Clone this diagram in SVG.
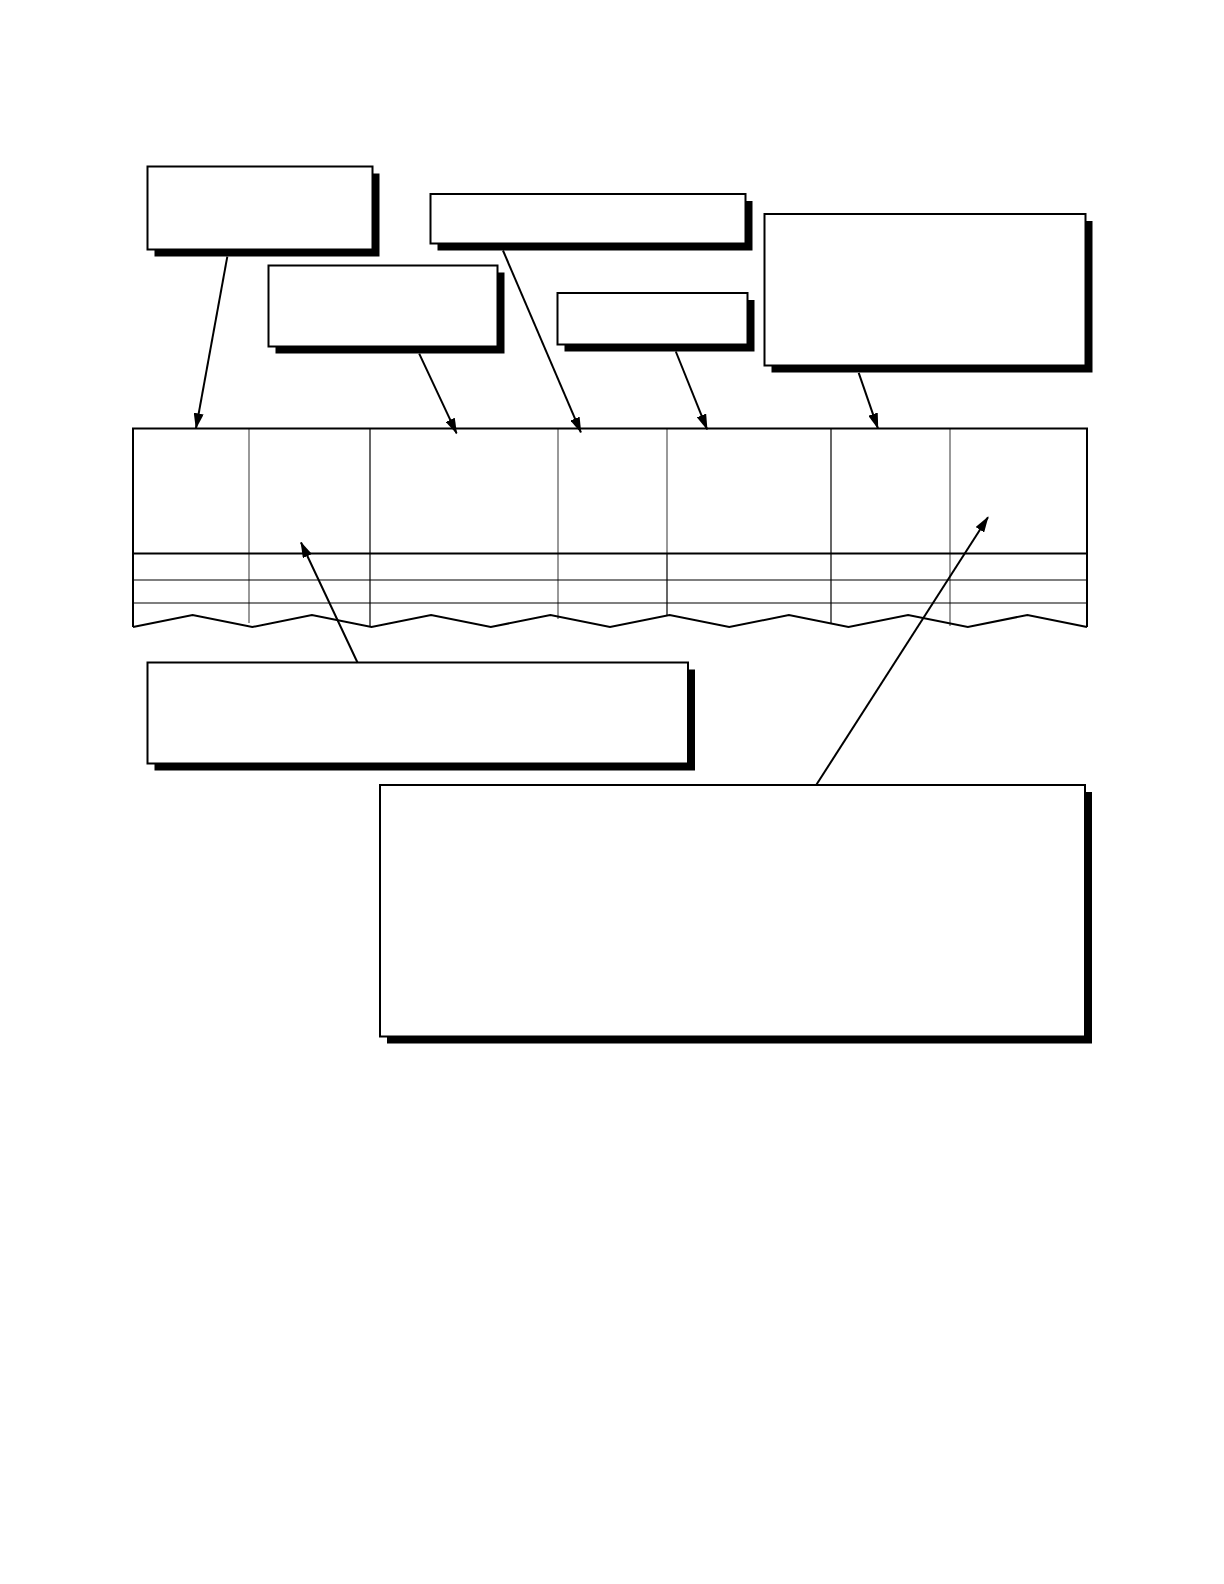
<svg xmlns="http://www.w3.org/2000/svg" width="1224" height="1584" viewBox="0 0 1224 1584">
<style>
.sh{fill:#000}
.bx{fill:#fff;stroke:#000;stroke-width:2}
.con{stroke:#000;stroke-width:2;fill:none;marker-end:url(#ah)}
.tb{stroke:#000;stroke-width:2;fill:none}
.tn{stroke:#000;stroke-width:1.2;fill:none}
.tg{stroke:#777;stroke-width:1.5;fill:none}
</style>
<defs>
<marker id="ah" markerUnits="userSpaceOnUse" markerWidth="16" markerHeight="10" refX="15" refY="5" orient="auto">
<path d="M0,0 L16,5 L0,10 Z" fill="#000"/>
</marker>
</defs>
<rect width="1224" height="1584" fill="#fff"/>
<g id="table">
<rect x="133" y="428" width="954" height="199" fill="#fff" stroke="none"/>
<line class="tg" x1="249" y1="428" x2="249" y2="623"/>
<line class="tn" x1="370" y1="428" x2="370" y2="627"/>
<line class="tg" x1="558" y1="428" x2="558" y2="619"/>
<line class="tg" x1="667" y1="428" x2="667" y2="553"/>
<line class="tn" x1="667" y1="553" x2="667" y2="616"/>
<line class="tn" x1="831" y1="428" x2="831" y2="623"/>
<line class="tg" x1="950" y1="428" x2="950" y2="626"/>
<line class="tb" x1="133" y1="553.5" x2="1087" y2="553.5"/>
<line class="tn" x1="133" y1="580" x2="1087" y2="580"/>
<line class="tn" x1="133" y1="603" x2="1087" y2="603"/>
<line class="tb" x1="132" y1="428.5" x2="1088" y2="428.5"/>
<line class="tb" x1="133" y1="428" x2="133" y2="627"/>
<line class="tb" x1="1087" y1="428" x2="1087" y2="627"/>
<polyline class="tb" points="133,627 192.6,615 252.3,627 311.9,615 371.5,627 431.1,615 490.8,627 550.4,615 610,627 669.6,615 729.3,627 788.9,615 848.5,627 908.1,615 967.8,627 1027.4,615 1087,627"/>
</g>
<g id="n1"><rect class="sh" x="154.5" y="173.5" width="225" height="83"/><rect class="bx" x="147.5" y="166.5" width="225" height="83"/></g>
<g id="n2"><rect class="sh" x="437.5" y="201" width="315" height="49.5"/><rect class="bx" x="430.5" y="194" width="315" height="49.5"/></g>
<g id="n3"><rect class="sh" x="275.5" y="272.5" width="229" height="81"/><rect class="bx" x="268.5" y="265.5" width="229" height="81"/></g>
<g id="n4"><rect class="sh" x="564.5" y="300" width="190" height="51.5"/><rect class="bx" x="557.5" y="293" width="190" height="51.5"/></g>
<g id="n5"><rect class="sh" x="771.5" y="221" width="321" height="151.5"/><rect class="bx" x="764.5" y="214" width="321" height="151.5"/></g>
<g id="n6"><rect class="sh" x="154.5" y="669.5" width="540.5" height="101"/><rect class="bx" x="147.5" y="662.5" width="540.5" height="101"/></g>
<g id="n7"><rect class="sh" x="387" y="792" width="705" height="251.5"/><rect class="bx" x="380" y="785" width="705" height="251.5"/></g>
<g id="connectors">
<line class="con" x1="227.3" y1="256.6" x2="196" y2="428.3"/>
<line class="con" x1="419.2" y1="353.6" x2="456.6" y2="433.4"/>
<line class="con" x1="503" y1="250.5" x2="580.9" y2="432.4"/>
<line class="con" x1="675.8" y1="351.5" x2="707.1" y2="429.3"/>
<line class="con" x1="858.7" y1="372.8" x2="877.9" y2="428.3"/>
<line class="con" x1="357.6" y1="662.7" x2="301" y2="542.5"/>
<line class="con" x1="816.2" y1="785" x2="988" y2="517.2"/>
</g>
</svg>
